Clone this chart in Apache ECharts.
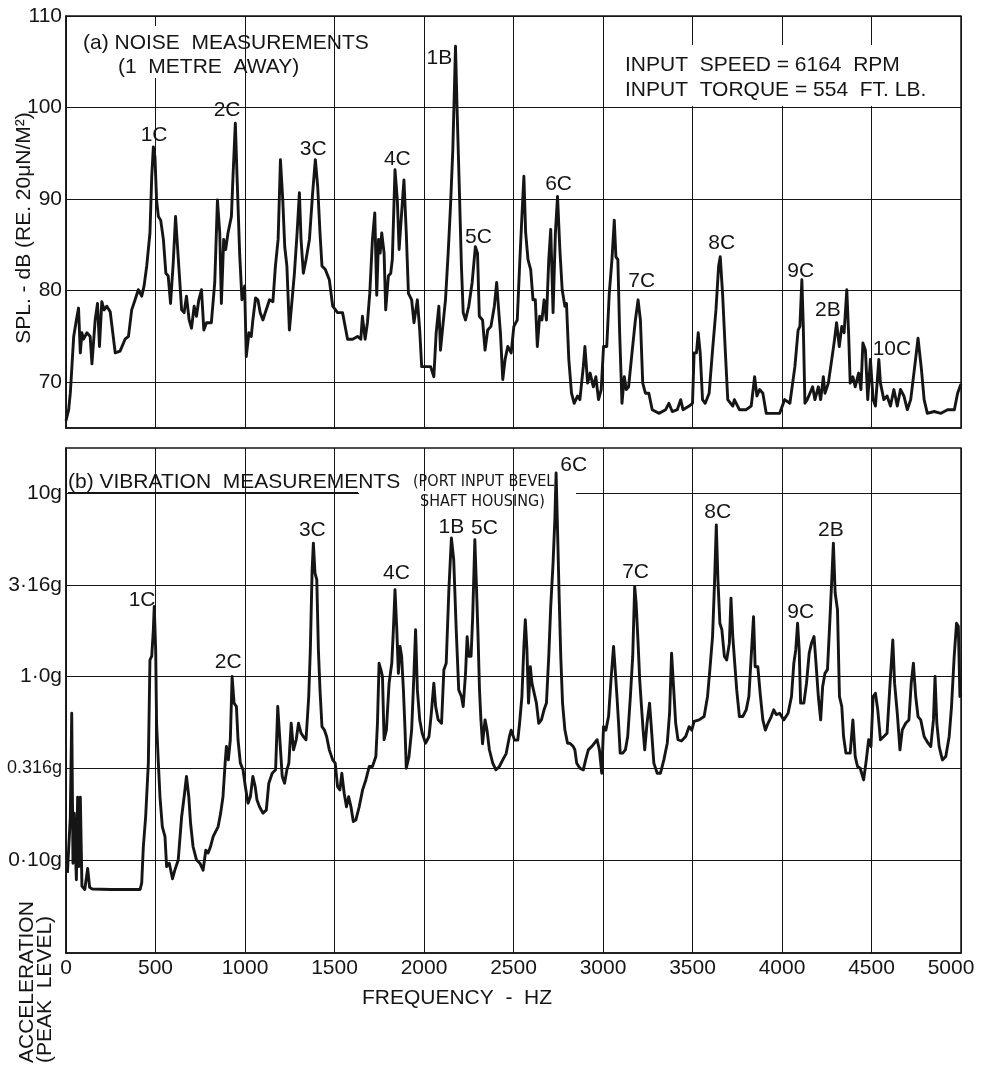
<!DOCTYPE html>
<html><head><meta charset="utf-8">
<script src="https://cdn.jsdelivr.net/npm/echarts@6/dist/echarts.min.js"></script>
<style>html,body{margin:0;padding:0;background:#fff}#c{width:981px;height:1068px}</style>
</head><body><div id="c"></div>
<script>
// ---------- DATA ----------
// (a) noise: [frequency Hz, SPL dB]
const noiseSpectrum = [[0,65.8],[6,66.3],[15,67.0],[24,68.8],[33,71.7],[43,75.0],[58,76.8],[70,78.1],[80,73.2],[89,75.4],[98,74.7],[117,75.4],[135,75.0],[145,72.0],[163,76.8],[176,78.6],[187,73.9],[200,78.8],[213,77.9],[228,78.3],[247,77.7],[275,73.2],[302,73.4],[330,74.7],[349,75.0],[367,77.9],[386,79.0],[404,80.1],[423,79.4],[436,80.5],[451,82.7],[469,86.3],[479,92.5],[488,95.7],[497,94.6],[506,89.9],[516,88.1],[529,87.7],[544,85.6],[558,81.9],[571,81.6],[584,78.6],[599,83.0],[612,88.1],[623,84.8],[636,80.9],[646,77.9],[660,77.6],[673,79.4],[688,76.8],[701,75.9],[716,78.3],[729,77.2],[742,79.0],[757,80.1],[770,75.7],[785,76.5],[812,76.5],[831,80.9],[846,89.9],[859,86.3],[868,78.6],[881,85.6],[892,84.5],[905,86.3],[924,88.1],[933,92.5],[946,98.3],[955,92.8],[970,84.1],[983,79.0],[998,80.5],[1007,72.8],[1022,75.4],[1035,75.0],[1044,76.8],[1059,79.2],[1072,79.0],[1085,77.6],[1100,76.8],[1115,77.7],[1137,79.0],[1156,78.8],[1170,82.7],[1185,85.6],[1198,94.3],[1211,89.9],[1222,84.8],[1234,82.7],[1248,75.7],[1263,79.0],[1276,81.9],[1291,86.3],[1304,90.7],[1313,85.6],[1326,81.9],[1341,83.4],[1360,85.6],[1378,90.7],[1393,94.3],[1406,91.4],[1419,86.3],[1430,82.7],[1449,82.3],[1471,81.2],[1490,78.3],[1517,77.6],[1545,77.6],[1573,74.7],[1601,74.7],[1629,75.0],[1647,74.7],[1656,77.2],[1671,74.7],[1684,76.5],[1697,79.7],[1712,85.6],[1725,88.5],[1736,79.5],[1746,85.6],[1755,84.1],[1764,86.3],[1777,84.1],[1786,77.9],[1801,81.6],[1814,81.9],[1823,83.4],[1838,93.2],[1851,89.9],[1861,84.5],[1875,88.5],[1888,92.1],[1901,86.3],[1913,79.7],[1931,79.0],[1944,76.5],[1963,79.0],[1976,75.7],[1987,71.7],[2009,71.7],[2037,71.7],[2055,70.6],[2068,75.4],[2083,78.3],[2092,73.5],[2105,76.1],[2120,79.0],[2135,84.1],[2148,89.2],[2161,95.4],[2176,106.7],[2185,99.7],[2198,90.7],[2209,82.7],[2219,77.6],[2232,76.8],[2250,78.3],[2269,80.9],[2287,84.8],[2299,84.1],[2309,77.2],[2327,76.8],[2341,73.5],[2356,75.7],[2374,76.1],[2393,78.3],[2406,80.9],[2417,77.9],[2427,75.4],[2440,70.3],[2453,72.5],[2468,73.9],[2487,73.2],[2502,76.1],[2521,76.8],[2534,82.7],[2547,88.1],[2558,92.5],[2568,86.3],[2581,83.4],[2596,82.3],[2609,79.0],[2622,79.0],[2633,73.9],[2646,77.2],[2659,76.8],[2671,79.0],[2684,76.8],[2697,83.4],[2708,86.7],[2721,77.6],[2734,86.3],[2746,90.3],[2759,84.5],[2772,80.1],[2787,78.3],[2796,78.6],[2809,72.5],[2824,68.8],[2839,67.7],[2858,68.5],[2871,68.1],[2890,71.7],[2899,73.9],[2914,69.9],[2928,71.0],[2946,69.5],[2960,70.6],[2975,68.1],[2990,69.2],[3003,73.9],[3021,73.9],[3035,79.7],[3050,83.4],[3063,87.7],[3072,83.7],[3083,83.4],[3093,75.4],[3106,67.7],[3119,70.6],[3130,69.2],[3143,69.5],[3162,73.2],[3181,76.8],[3196,79.0],[3209,76.8],[3222,69.9],[3237,68.8],[3256,68.8],[3275,67.0],[3312,66.6],[3350,67.0],[3368,67.7],[3387,66.8],[3415,67.0],[3434,68.1],[3447,67.0],[3481,67.4],[3500,67.7],[3509,73.2],[3522,73.2],[3532,75.4],[3543,73.2],[3556,68.1],[3571,67.7],[3593,68.8],[3612,73.5],[3631,77.9],[3646,82.7],[3655,83.7],[3668,79.7],[3683,73.5],[3697,68.1],[3725,67.4],[3734,68.1],[3762,67.0],[3800,67.0],[3828,67.4],[3847,70.6],[3860,68.5],[3875,69.2],[3893,68.8],[3912,66.6],[3950,66.6],[3987,66.6],[4015,68.1],[4044,67.7],[4072,71.7],[4090,75.7],[4100,76.1],[4111,81.2],[4119,76.1],[4128,67.7],[4141,68.1],[4156,68.8],[4171,69.5],[4184,68.1],[4203,69.5],[4216,68.1],[4231,70.6],[4240,68.8],[4259,69.9],[4278,72.5],[4291,74.3],[4305,76.5],[4320,73.9],[4334,76.1],[4347,75.4],[4362,80.1],[4372,75.4],[4381,69.9],[4396,70.6],[4409,69.5],[4428,71.0],[4441,69.2],[4452,74.3],[4466,73.5],[4479,68.1],[4494,72.5],[4509,68.1],[4522,67.4],[4541,72.5],[4550,69.9],[4569,68.1],[4587,68.5],[4606,67.4],[4625,69.2],[4644,67.4],[4662,69.2],[4681,68.5],[4700,67.0],[4719,68.1],[4737,71.0],[4760,74.8],[4779,71.4],[4794,68.1],[4812,66.6],[4850,66.8],[4888,66.6],[4925,67.0],[4963,67.0],[4981,68.8],[4994,69.5],[5000,69.8]];

// (b) vibration: [frequency Hz, acceleration g]
const vibrationSpectrum = [[8,0.085],[15,0.085],[24,0.17],[32,0.63],[39,0.096],[46,0.18],[58,0.078],[65,0.22],[72,0.092],[80,0.22],[89,0.072],[105,0.069],[121,0.09],[132,0.071],[145,0.0695],[250,0.069],[414,0.069],[423,0.075],[432,0.118],[445,0.172],[460,0.337],[469,1.23],[479,1.29],[488,1.80],[493,2.41],[501,1.40],[506,0.556],[516,0.337],[525,0.221],[538,0.152],[553,0.134],[562,0.092],[577,0.096],[595,0.079],[608,0.088],[627,0.10],[646,0.172],[660,0.221],[673,0.285],[686,0.221],[696,0.158],[710,0.118],[729,0.10],[748,0.096],[766,0.088],[781,0.113],[794,0.109],[807,0.118],[822,0.134],[850,0.152],[864,0.180],[877,0.221],[889,0.337],[896,0.415],[907,0.351],[918,0.452],[928,1.0],[939,0.716],[952,0.686],[961,0.452],[974,0.337],[989,0.310],[1002,0.251],[1017,0.204],[1030,0.221],[1044,0.285],[1057,0.251],[1067,0.212],[1081,0.195],[1100,0.180],[1119,0.187],[1133,0.262],[1152,0.297],[1171,0.310],[1183,0.686],[1196,0.433],[1208,0.285],[1221,0.262],[1234,0.310],[1245,0.337],[1258,0.556],[1271,0.398],[1286,0.452],[1299,0.556],[1313,0.491],[1326,0.471],[1341,0.452],[1356,0.778],[1365,1.40],[1375,3.82],[1382,5.33],[1391,3.66],[1401,3.37],[1410,1.40],[1419,0.845],[1430,0.533],[1443,0.512],[1456,0.471],[1471,0.398],[1490,0.351],[1504,0.337],[1517,0.251],[1530,0.241],[1541,0.297],[1554,0.231],[1567,0.195],[1579,0.221],[1592,0.195],[1605,0.162],[1619,0.165],[1638,0.195],[1657,0.241],[1675,0.273],[1694,0.323],[1712,0.323],[1731,0.366],[1740,0.556],[1749,1.18],[1759,1.09],[1768,1.0],[1777,0.452],[1790,0.512],[1805,0.92],[1820,1.18],[1829,1.80],[1838,2.97],[1848,1.80],[1857,1.04],[1866,1.46],[1875,1.29],[1885,0.845],[1894,0.512],[1901,0.316],[1916,0.366],[1931,0.512],[1944,1.04],[1953,1.80],[1963,0.845],[1976,0.581],[1990,0.491],[2009,0.433],[2028,0.471],[2041,0.631],[2055,0.92],[2065,0.686],[2079,0.581],[2098,0.556],[2111,1.09],[2124,1.18],[2139,2.97],[2153,5.69],[2166,4.33],[2180,1.80],[2194,0.845],[2209,0.778],[2219,0.686],[2232,1.04],[2241,1.65],[2250,1.29],[2263,1.29],[2272,2.12],[2284,5.56],[2293,3.10],[2302,1.65],[2310,0.85],[2318,0.58],[2327,0.43],[2341,0.58],[2352,0.51],[2365,0.40],[2384,0.337],[2402,0.31],[2421,0.323],[2440,0.351],[2459,0.38],[2477,0.47],[2487,0.51],[2506,0.45],[2524,0.45],[2534,0.556],[2547,0.78],[2558,1.46],[2566,2.04],[2575,1.40],[2584,0.716],[2594,1.13],[2603,0.92],[2614,0.92],[2628,0.716],[2641,0.556],[2656,0.58],[2671,0.66],[2684,0.716],[2697,1.29],[2708,2.41],[2721,4.15],[2731,7.16],[2738,12.85],[2746,6.31],[2755,2.73],[2764,1.29],[2774,0.716],[2787,0.512],[2802,0.433],[2815,0.433],[2834,0.415],[2843,0.398],[2853,0.337],[2871,0.316],[2890,0.31],[2903,0.351],[2918,0.398],[2937,0.415],[2952,0.433],[2967,0.452],[2980,0.398],[2993,0.297],[3003,0.533],[3016,0.51],[3031,0.605],[3046,1.0],[3059,1.46],[3068,1.09],[3078,0.778],[3087,0.556],[3096,0.382],[3110,0.382],[3125,0.398],[3138,0.471],[3153,0.778],[3166,1.29],[3177,3.1],[3185,2.51],[3196,1.52],[3205,0.96],[3215,0.686],[3224,0.512],[3233,0.398],[3246,0.556],[3260,0.716],[3271,0.512],[3284,0.337],[3303,0.297],[3321,0.297],[3340,0.351],[3359,0.433],[3372,0.631],[3383,1.34],[3393,0.92],[3406,0.556],[3419,0.452],[3438,0.445],[3462,0.471],[3481,0.533],[3496,0.51],[3509,0.57],[3537,0.58],[3565,0.605],[3584,0.778],[3597,1.09],[3612,1.65],[3623,3.23],[3633,6.71],[3642,3.37],[3653,1.95],[3664,1.8],[3678,1.29],[3691,1.23],[3706,1.52],[3715,2.67],[3725,1.65],[3736,1.18],[3747,0.845],[3762,0.605],[3781,0.605],[3800,0.658],[3815,0.778],[3828,1.29],[3841,2.12],[3850,1.13],[3865,1.13],[3878,0.81],[3893,0.58],[3907,0.51],[3922,0.556],[3940,0.605],[3954,0.658],[3968,0.62],[3987,0.63],[4010,0.58],[4034,0.63],[4053,0.778],[4066,1.18],[4077,1.40],[4087,1.95],[4096,1.40],[4104,0.716],[4122,0.716],[4137,0.92],[4152,1.34],[4165,1.52],[4179,1.65],[4190,1.18],[4203,0.778],[4216,0.58],[4227,0.88],[4240,1.04],[4254,1.09],[4265,1.8],[4278,3.37],[4287,5.33],[4297,2.85],[4310,2.31],[4321,0.778],[4334,0.686],[4344,0.471],[4357,0.382],[4381,0.382],[4396,0.58],[4409,0.366],[4422,0.323],[4437,0.316],[4456,0.273],[4471,0.351],[4484,0.452],[4497,0.415],[4509,0.778],[4522,0.81],[4535,0.658],[4550,0.452],[4569,0.471],[4587,0.491],[4606,1.0],[4619,1.58],[4629,0.92],[4644,0.631],[4659,0.398],[4672,0.512],[4691,0.556],[4709,0.58],[4722,0.92],[4734,1.18],[4747,0.778],[4760,0.605],[4775,0.58],[4794,0.471],[4816,0.433],[4831,0.415],[4846,0.58],[4855,1.0],[4865,0.556],[4878,0.415],[4896,0.351],[4915,0.366],[4934,0.471],[4947,0.686],[4962,1.29],[4975,1.95],[4985,1.88],[4994,0.778],[5000,0.8]];

// tick values / labels
const splTicks = [70, 80, 90, 100, 110];
const accelTicks = [0.1, 0.316, 1, 3.16, 10];
const accelTickLabels = ['0·10g', '0.316g', '1·0g', '3·16g', '10g'];

// peak annotations: [text, frequency, value at label centre]
const noisePeaks = [['1C',492,97.0],['2C',900,99.7],['3C',1381,95.4],['4C',1851,94.4],['1B',2086,105.4],['5C',2304,85.8],['6C',2752,91.6],['7C',3216,81.0],['8C',3663,85.2],['9C',4105,82.1],['2B',4256,77.9],['10C',4614,73.6]];
const vibPeaks = [['1C',425,2.61],['2C',906,1.20],['3C',1376,6.28],['4C',1846,3.66],['1B',2153,6.53],['5C',2338,6.44],['6C',2836,14.2],['7C',3182,3.71],['8C',3641,7.87],['9C',4105,2.24],['2B',4273,6.28]];

// ---------- CHART ----------
const INK = '#151515';
const FONT = "'Liberation Sans', Arial, sans-serif";
const NARROW = "'Liberation Sans Narrow', 'DejaVu Sans Condensed', sans-serif";
const FS = 21;

const chart = echarts.init(document.getElementById('c'), null, {renderer: 'canvas'});

function xAxis(gi, showLabel) {
  return {
    type: 'value', gridIndex: gi, min: 0, max: 5000, interval: 500,
    axisLine: {show: true, onZero: false, lineStyle: {color: INK, width: 1.5}},
    axisTick: {show: false},
    axisLabel: {
      show: showLabel, color: INK, fontFamily: FONT, fontSize: FS, margin: 5,
      formatter: function (v) { return v === 5000 ? '{e|' + v + '}' : String(v); },
      rich: {e: {color: INK, fontFamily: FONT, fontSize: FS, padding: [0, 20, 0, 0]}}
    },
    splitLine: {show: true, lineStyle: {color: INK, width: 1}}
  };
}
const gridBase = {show: true, borderColor: INK, borderWidth: 1.5, backgroundColor: 'transparent',
                  containLabel: false, outerBoundsMode: 'none'};

chart.setOption({
  animation: false,
  backgroundColor: '#fff',
  grid: [
    Object.assign({left: 66, top: 16, width: 895, height: 412}, gridBase),
    Object.assign({left: 66, top: 448, width: 895, height: 505}, gridBase)
  ],
  xAxis: [xAxis(0, false), xAxis(1, true)],
  yAxis: [
    {
      type: 'value', gridIndex: 0, min: 65, max: 110,
      axisLine: {show: true, lineStyle: {color: INK, width: 1.5}},
      axisTick: {show: false, customValues: splTicks},
      axisLabel: {customValues: splTicks, color: INK, fontFamily: FONT, fontSize: FS, margin: 4},
      splitLine: {show: true, lineStyle: {color: INK, width: 1}}
    },
    {
      type: 'log', logBase: 10, gridIndex: 1, min: 0.0311, max: 17.6,
      axisLine: {show: true, lineStyle: {color: INK, width: 1.5}},
      axisTick: {show: false, customValues: accelTicks},
      axisLabel: {
        customValues: accelTicks, color: INK, fontFamily: FONT, fontSize: FS, margin: 4,
        formatter: function (v) {
          let best = 0, d = 1e9;
          accelTicks.forEach(function (t, i) {
            const dd = Math.abs(Math.log10(v) - Math.log10(t));
            if (dd < d) { d = dd; best = i; }
          });
          return best === 1 ? '{s|' + accelTickLabels[best] + '}' : accelTickLabels[best];
        },
        rich: {s: {color: INK, fontFamily: FONT, fontSize: 18}}
      },
      splitLine: {show: true, lineStyle: {color: INK, width: 1}}
    }
  ],
  series: [
    {type: 'line', xAxisIndex: 0, yAxisIndex: 0, data: noiseSpectrum, symbol: 'none', z: 3,
     lineStyle: {color: INK, width: 2.9, join: 'round'}},
    {type: 'line', xAxisIndex: 1, yAxisIndex: 1, data: vibrationSpectrum, symbol: 'none', z: 3,
     lineStyle: {color: INK, width: 2.9, join: 'round'}}
  ]
});

// ---------- ANNOTATIONS ----------
function txt(x, y, text, opts) {
  opts = opts || {};
  const align = opts.align || 'left';
  return {
    type: 'text', x: x, y: y, rotation: opts.rotation || 0, z: 10,
    style: {
      text: text, fill: INK,
      fontFamily: opts.family || FONT, fontSize: opts.size || FS,
      align: align, textAlign: align,
      verticalAlign: 'middle', textVerticalAlign: 'middle'
    }
  };
}
const p0 = (f, v) => chart.convertToPixel({xAxisIndex: 0, yAxisIndex: 0}, [f, v]);
const p1 = (f, v) => chart.convertToPixel({xAxisIndex: 1, yAxisIndex: 1}, [f, v]);

const g = [];
// white box behind the input-condition text
const bx0 = p0(3000, 100), bx1 = p0(5000, 110);
g.push({type: 'rect', z: 1, shape: {x: bx0[0] + 1.5, y: 45, width: bx1[0] - bx0[0] - 3, height: bx0[1] - 45 - 1.5}, style: {fill: '#fff'}});
// gap in the 500 Hz line behind the title
const t500 = p0(500, 110);
g.push({type: 'rect', z: 1, shape: {x: t500[0] - 2.5, y: 26, width: 5, height: 52}, style: {fill: '#fff'}});
// gap in the 10g line behind the sub-caption, and the underline
const g10 = p1(0, 10);
g.push({type: 'rect', z: 1, shape: {x: 359, y: g10[1] - 2, width: 217, height: 4}, style: {fill: '#fff'}});
g.push({type: 'line', z: 4, shape: {x1: 68, y1: g10[1], x2: 358, y2: g10[1]}, style: {stroke: INK, lineWidth: 2}});

// panel captions
g.push(txt(83, 43, '(a) NOISE  MEASUREMENTS'));
g.push(txt(118, 67, '(1  METRE  AWAY)'));
g.push(txt(625, 65, 'INPUT  SPEED = 6164  RPM'));
g.push(txt(625, 90, 'INPUT  TORQUE = 554  FT. LB.'));
g.push(txt(68, 482, '(b) VIBRATION  MEASUREMENTS'));
g.push(txt(413, 482, '(PORT INPUT BEVEL', {family: NARROW, size: 16}));
g.push(txt(420, 502, 'SHAFT HOUSING)', {family: NARROW, size: 16}));

// axis titles
g.push(txt(24, 228, 'SPL. - dB (RE. 20μN/M²)', {align: 'center', rotation: Math.PI / 2}));
g.push(txt(27, 1063, 'ACCELERATION', {rotation: Math.PI / 2}));
g.push(txt(45, 1063, '(PEAK  LEVEL)', {rotation: Math.PI / 2}));
g.push(txt(457, 998, 'FREQUENCY  -  HZ', {align: 'center'}));

// peak labels
noisePeaks.forEach(function (p) { const q = p0(p[1], p[2]); g.push(txt(q[0], q[1], p[0], {align: 'center'})); });
vibPeaks.forEach(function (p) { const q = p1(p[1], p[2]); g.push(txt(q[0], q[1], p[0], {align: 'center'})); });

chart.setOption({graphic: {elements: g}});
</script></body></html>
